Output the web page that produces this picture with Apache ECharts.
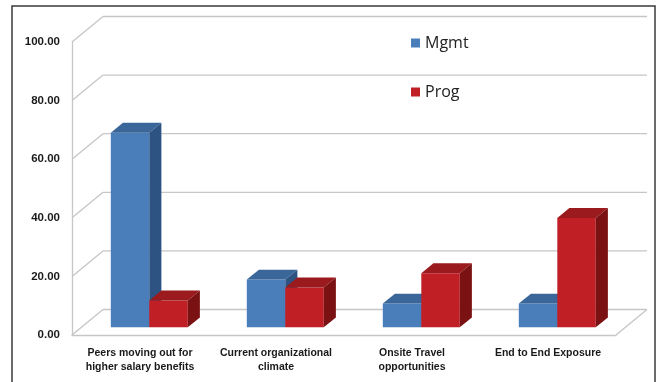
<!DOCTYPE html>
<html>
<head>
<meta charset="utf-8">
<script src="https://cdn.jsdelivr.net/npm/echarts@6/dist/echarts.min.js"></script>
<style>
  html, body { margin: 0; padding: 0; background: #fff; }
  #chart { width: 661px; height: 382px; }
</style>
</head>
<body>
<div id="chart"></div>
<script>
// Survey reasons, share of respondents (%) per group
const categories = [
  'Peers moving out for\nhigher salary benefits',
  'Current organizational\nclimate',
  'Onsite Travel\nopportunities',
  'End to End Exposure'
];
const mgmtValues = [66.4, 16.3, 8.1, 8.1];
const progValues = [9.2, 13.6, 18.5, 37.3];
const yTicks = [0, 20, 40, 60, 80, 100];

// Oblique projection of the depth axis (pixels from front plane to back wall)
const DEPTH_DX = 31;
const DEPTH_DY = -25.5;
// Bars sit in the middle of the floor depth
const BAR_FRONT = 0.3;
const BAR_DEPTH = 0.39;
const BAR_FRAC = 0.283;   // width of one bar as a share of the category band

const GRID_COLOR = '#c6c6c6';

const chart = echarts.init(document.getElementById('chart'));

function wallsItem(params, api) {
  const cs = params.coordSys;
  const v = api.value(1);
  const y = api.coord([0, v])[1];
  const style = { stroke: GRID_COLOR, lineWidth: 1.3 };
  const children = [
    { type: 'line', shape: { x1: cs.x, y1: y, x2: cs.x + DEPTH_DX, y2: y + DEPTH_DY }, style },
    { type: 'line', shape: { x1: cs.x + DEPTH_DX, y1: y + DEPTH_DY, x2: cs.x + cs.width + DEPTH_DX, y2: y + DEPTH_DY }, style }
  ];
  if (v === 0) {
    children.push({ type: 'line', shape: { x1: cs.x + cs.width, y1: y, x2: cs.x + cs.width + DEPTH_DX, y2: y + DEPTH_DY }, style });
  }
  return { type: 'group', children };
}

function barSeries(name, values, side, colors) {
  return {
    type: 'custom',
    name,
    itemStyle: { color: colors.front },
    data: values.map((v, i) => [i, v]),
    z: 3,
    renderItem(params, api) {
      const idx = api.value(0);
      const v = api.value(1);
      const base = api.coord([idx, 0]);
      const top = api.coord([idx, v]);
      const band = api.size([1, 0])[0];
      const w = band * BAR_FRAC;
      const ox = BAR_FRONT * DEPTH_DX;
      const oy = BAR_FRONT * DEPTH_DY;
      const bdx = BAR_DEPTH * DEPTH_DX;
      const bdy = BAR_DEPTH * DEPTH_DY;
      const x0 = base[0] + ox + (side < 0 ? -w : 0);
      const yb = base[1] + oy;
      const yt = top[1] + oy;
      return {
        type: 'group',
        children: [
          { type: 'rect', shape: { x: x0, y: yt, width: w, height: yb - yt },
            style: { fill: colors.front } },
          { type: 'polygon', shape: { points: [[x0, yt], [x0 + w, yt], [x0 + w + bdx, yt + bdy], [x0 + bdx, yt + bdy]] },
            style: { fill: colors.top } },
          { type: 'polygon', shape: { points: [[x0 + w, yt], [x0 + w, yb], [x0 + w + bdx, yb + bdy], [x0 + w + bdx, yt + bdy]] },
            style: { fill: colors.side } }
        ]
      };
    }
  };
}

chart.setOption({
  animation: false,
  backgroundColor: '#fff',
  graphic: [{
    type: 'rect',
    shape: { x: 12, y: 6, width: 643, height: 420 },
    style: { fill: 'none', stroke: '#3a3a3a', lineWidth: 1.5 },
    silent: true
  }],
  legend: {
    data: ['Mgmt', 'Prog'],
    orient: 'vertical',
    left: 406,
    top: 30,
    itemGap: 33,
    itemWidth: 9,
    itemHeight: 9,
    icon: 'rect',
    textStyle: { fontFamily: 'Open Sans', fontSize: 16, color: '#222' }
  },
  grid: { left: 72, top: 42, width: 544, height: 293 },
  xAxis: {
    type: 'category',
    data: categories,
    axisLine: { show: true, lineStyle: { color: GRID_COLOR, width: 1.3 } },
    axisTick: { show: false },
    splitLine: { show: false },
    axisLabel: {
      interval: 0,
      margin: 11,
      fontFamily: 'Liberation Sans',
      fontWeight: 'bold',
      fontSize: 10.5,
      lineHeight: 14,
      color: '#1a1a1a'
    }
  },
  yAxis: {
    type: 'value',
    min: 0,
    max: 100,
    interval: 20,
    axisLine: { show: true, lineStyle: { color: GRID_COLOR, width: 1.3 } },
    axisTick: { show: false },
    splitLine: { show: false },
    axisLabel: {
      margin: 12,
      fontFamily: 'Liberation Sans',
      fontWeight: 'bold',
      fontSize: 11.5,
      color: '#1a1a1a',
      formatter: v => v.toFixed(2)
    }
  },
  series: [
    {
      type: 'custom',
      name: 'walls',
      silent: true,
      z: 1,
      data: yTicks.map(v => [0, v]),
      renderItem: wallsItem
    },
    barSeries('Mgmt', mgmtValues, -1, { front: '#4a7ebb', top: '#3a6699', side: '#2c5382' }),
    barSeries('Prog', progValues, 1, { front: '#c01f26', top: '#9b1a1d', side: '#7a1112' })
  ]
});
</script>
</body>
</html>
